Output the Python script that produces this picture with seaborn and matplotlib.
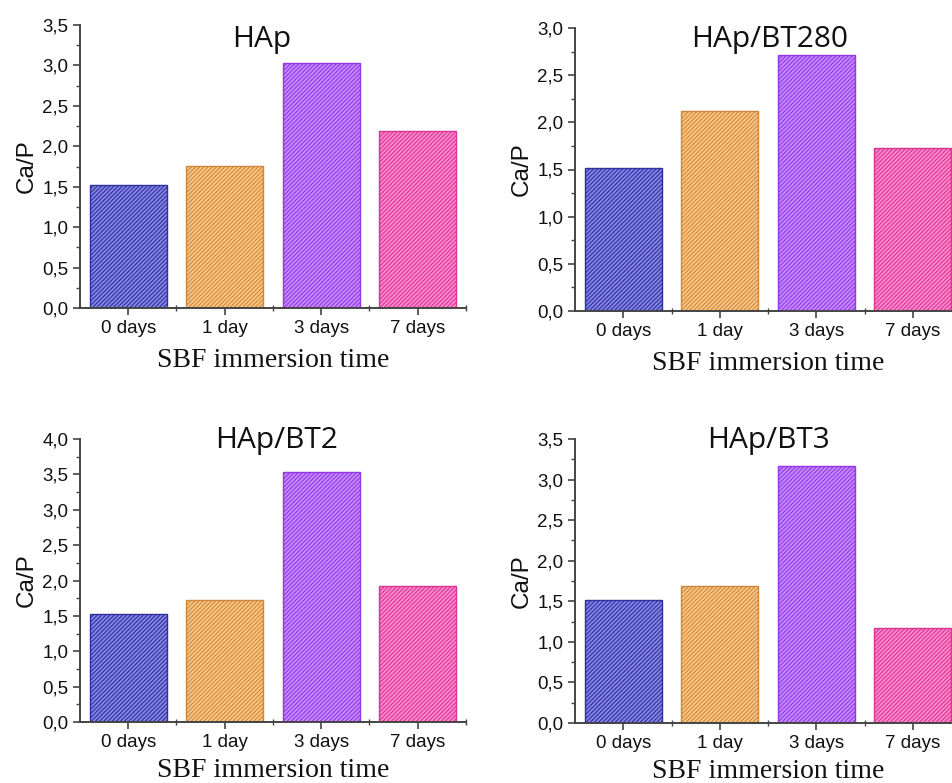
import numpy as np
import pandas as pd
import matplotlib
matplotlib.use("Agg")
import matplotlib.pyplot as plt
from matplotlib.ticker import MultipleLocator, FixedLocator
import seaborn as sns

# data
days = ["0 days", "1 day", "3 days", "7 days"]
hap = [1.52, 1.76, 3.03, 2.19]
hap_bt280 = [1.52, 2.12, 2.71, 1.73]
hap_bt2 = [1.52, 1.73, 3.54, 1.92]
hap_bt3 = [1.52, 1.69, 3.17, 1.17]

titles = ["HAp", "HAp/BT280", "HAp/BT2", "HAp/BT3"]
ymax = [3.5, 3.0, 4.0, 3.5]

fill_colors = ["#8686e8", "#fcc888", "#c68cfc", "#fc8ccc"]
line_colors = ["#30309c", "#d0863a", "#9236e6", "#dc3296"]

sns.set_style("ticks")
plt.rcParams["font.family"] = ["Liberation Sans", "DejaVu Sans"]
plt.rcParams["hatch.linewidth"] = 0.8

fig = plt.figure(figsize=(9.53, 7.83), dpi=100)

# axes rectangles in figure fractions
rects = [
    [80 / 953, 1 - 308 / 783, 386 / 953, 283 / 783],
    [575 / 953, 1 - 311 / 783, 386 / 953, 283 / 783],
    [80 / 953, 1 - 722 / 783, 386 / 953, 283 / 783],
    [575 / 953, 1 - 723 / 783, 386 / 953, 284 / 783],
]
title_pos = [(0.47, 0.95), (0.505, 0.96), (0.51, 0.995), (0.50, 0.995)]
xlabel_pad = [8, 8, 5, 5]

for i, values in enumerate([hap, hap_bt280, hap_bt2, hap_bt3]):
    ax = fig.add_axes(rects[i])
    df = pd.DataFrame({"time": days, "ratio": values})
    sns.barplot(data=df, x="time", y="ratio", hue="time", palette=fill_colors,
                legend=False, width=0.8, saturation=1, ax=ax)
    for patch, ec in zip(ax.patches, line_colors):
        patch.set_hatch("/" * 8)
        patch.set_edgecolor(ec)
        patch.set_linewidth(1.0)

    ax.set_xlim(-0.5, 3.5)
    ax.set_ylim(0, ymax[i])
    ax.yaxis.set_major_locator(MultipleLocator(0.5))
    ax.yaxis.set_minor_locator(MultipleLocator(0.25))
    ax.yaxis.set_major_formatter(lambda v, p: f"{v:.1f}".replace(".", ","))
    ax.xaxis.set_minor_locator(FixedLocator([0.5, 1.5, 2.5, 3.5]))

    ax.tick_params(axis="both", which="major", labelsize=13.5, length=5,
                   width=1.2, color="#444444", labelcolor="#111111")
    ax.tick_params(axis="y", which="minor", length=3, width=1.0, color="#444444")
    ax.tick_params(axis="x", which="minor", length=4, width=1.0,
                   direction="inout", color="#444444")

    sns.despine(ax=ax)
    for side in ["left", "bottom"]:
        ax.spines[side].set_linewidth(1.4)
        ax.spines[side].set_color("#444444")

    ax.set_ylabel("Ca/P", fontsize=17.5, labelpad=3, color="#111111")
    ax.set_xlabel("SBF immersion time", fontsize=20,
                  family=["Liberation Serif", "DejaVu Serif"],
                  labelpad=xlabel_pad[i], color="#111111")
    tx, ty = title_pos[i]
    ax.text(tx, ty, titles[i], transform=ax.transAxes, ha="center", va="center",
            fontsize=21.5, family=["Open Sans", "DejaVu Sans"], color="#111111")

fig.savefig("out.png", dpi=100)
